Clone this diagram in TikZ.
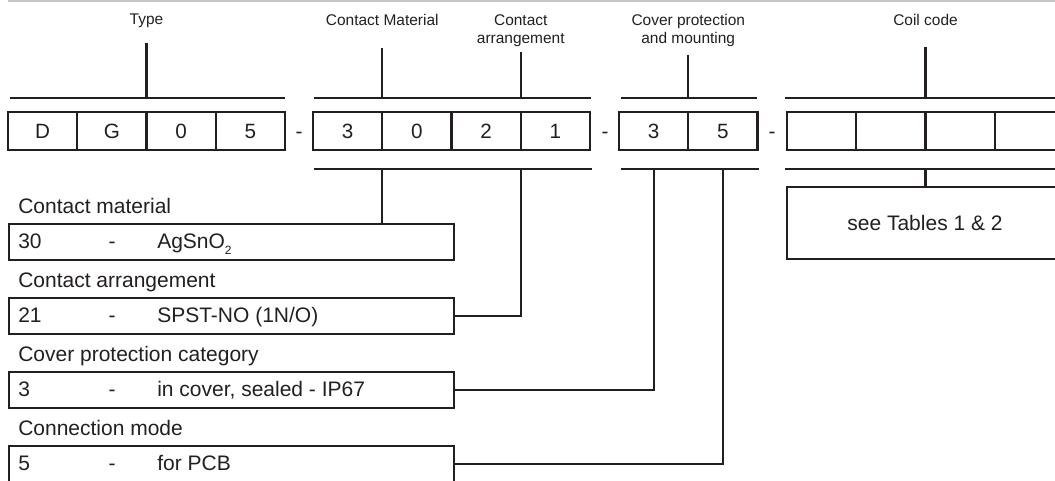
\documentclass[tikz,border=0pt]{standalone}
\usepackage{fontspec}
\setmainfont{Liberation Sans}
\definecolor{ink}{HTML}{231F20}
\definecolor{rulegray}{HTML}{C8C8C8}
\begin{document}
\begin{tikzpicture}[x=0.75pt,y=-0.75pt,
  ln/.style={draw=ink,line width=1.6pt},
  cell/.style={draw=ink,line width=1.6pt,minimum width=51.94pt,minimum height=28.5pt,inner sep=0pt,text=ink,font=\fontsize{15.5}{18}\selectfont},
  sep/.style={text=ink,inner sep=0pt,anchor=base,font=\fontsize{15.5}{18}\selectfont},
  toplab/.style={text=ink,inner sep=0pt,align=center,anchor=north,font=\fontsize{11.6}{13.5}\selectfont},
  desclab/.style={text=ink,inner sep=0pt,anchor=base west,font=\fontsize{15.75}{18}\selectfont},
  rowtxt/.style={text=ink,inner sep=0pt,anchor=base west,font=\fontsize{15.75}{18}\selectfont},
  rowdash/.style={text=ink,inner sep=0pt,anchor=base,font=\fontsize{15.75}{18}\selectfont},
  descbox/.style={draw=ink,line width=1.6pt,minimum width=333.75pt,minimum height=27pt,inner sep=0pt,anchor=north west},
  tabbox/.style={draw=ink,line width=1.6pt,minimum width=207pt,minimum height=54pt,inner sep=0pt,text=ink,font=\fontsize{15.75}{18}\selectfont}]
\useasboundingbox (0,0) rectangle (1055,481);

% top gray rule
\coordinate (gw) at (8,1.2);
\coordinate (ge) at (1056,1.2);
\draw[draw=rulegray,line width=1.9pt] (gw) -- (ge);

% code cells
\node[cell] (d1) at (42.6,131) {D};
\node[cell] (d2) at (111.9,131) {G};
\node[cell] (d3) at (181.1,131) {0};
\node[cell] (d4) at (250.4,131) {5};
\node[sep] (s1) at (299,138.5) {-};
\node[cell] (m1) at (347.6,131) {3};
\node[cell] (m2) at (416.9,131) {0};
\node[cell] (m3) at (486.1,131) {2};
\node[cell] (m4) at (555.4,131) {1};
\node[sep] (s2) at (605,138.5) {-};
\node[cell] (p1) at (653.6,131) {3};
\node[cell] (p2) at (722.9,131) {5};
\node[sep] (s3) at (772,138.5) {-};
\node[cell] (k1) at (821.6,131) {};
\node[cell] (k2) at (890.9,131) {};
\node[cell] (k3) at (960.1,131) {};
\node[cell] (k4) at (1029.4,131) {};

% top labels
\node[toplab] (lType) at (146.5,14) {Type};
\node[toplab] (lCM) at (382.25,14) {Contact Material};
\node[toplab] (lCA) at (520.75,14) {Contact\\arrangement};
\node[toplab] (lCP) at (688.25,14) {Cover protection\\and mounting};
\node[toplab] (lCC) at (925.5,14) {Coil code};

% top brackets
\coordinate (tb1w) at (10,98);  \coordinate (tb1e) at (285,98);
\coordinate (tb2w) at (314,98); \coordinate (tb2e) at (591,98);
\coordinate (tb3w) at (621,98); \coordinate (tb3e) at (757,98);
\coordinate (tb4w) at (785,98); \coordinate (tb4e) at (1060,98);
\draw[ln] (tb1w) -- (tb1e);
\draw[ln] (tb2w) -- (tb2e);
\draw[ln] (tb3w) -- (tb3e);
\draw[ln] (tb4w) -- (tb4e);
\coordinate (vT) at (146.5,43);
\coordinate (vCM) at (382.25,48);
\coordinate (vCA) at (520.75,52);
\coordinate (vCP) at (688.25,55);
\coordinate (vCC) at (925.5,47);
\draw[ln] (vT) -- (vT |- tb1w);
\draw[ln] (vCM) -- (vCM |- tb2w);
\draw[ln] (vCA) -- (vCA |- tb2w);
\draw[ln] (vCP) -- (vCP |- tb3w);
\draw[ln] (vCC) -- (vCC |- tb4w);

% bottom brackets
\coordinate (bb2w) at (314,169); \coordinate (bb2e) at (592,169);
\coordinate (bb3w) at (621,169); \coordinate (bb3e) at (759,169);
\coordinate (bb4w) at (785,169); \coordinate (bb4e) at (1060,169);
\draw[ln] (bb2w) -- (bb2e);
\draw[ln] (bb3w) -- (bb3e);
\draw[ln] (bb4w) -- (bb4e);

% description blocks
\node[desclab] (hCM) at (18,213) {Contact material};
\node[descbox] (b30) at (8,223) {};
\node[rowtxt] (r30a) at (18,248.5) {30};
\node[rowdash] (r30b) at (112,248.5) {-};
\node[rowtxt] (r30c) at (157,248.5) {AgSnO\raisebox{-0.55ex}{\fontsize{9}{9}\selectfont 2}};

\node[desclab] (hCA) at (18,287) {Contact arrangement};
\node[descbox] (b21) at (8,297) {};
\node[rowtxt] (r21a) at (18,322.5) {21};
\node[rowdash] (r21b) at (112,322.5) {-};
\node[rowtxt] (r21c) at (157,322.5) {SPST-NO (1N/O)};

\node[desclab] (hCP) at (18,361) {Cover protection category};
\node[descbox] (b3) at (8,371) {};
\node[rowtxt] (r3a) at (18,396.5) {3};
\node[rowdash] (r3b) at (112,396.5) {-};
\node[rowtxt] (r3c) at (157,396.5) {in cover, sealed - IP67};

\node[desclab] (hCN) at (18,435) {Connection mode};
\node[descbox] (b5) at (8,445) {};
\node[rowtxt] (r5a) at (18,470.5) {5};
\node[rowdash] (r5b) at (112,470.5) {-};
\node[rowtxt] (r5c) at (157,470.5) {for PCB};

\node[tabbox] (tables) at (925,223) {see Tables 1 \& 2};

% connectors
\coordinate (cm) at (382.25,169);
\coordinate (ca) at (520.75,169);
\coordinate (cp) at (653.6,169);
\coordinate (cn) at (722.9,169);
\coordinate (cc) at (925.5,169);
\draw[ln] (cm) -- (cm |- b30.north);
\draw[ln] (ca) |- (b21.east);
\draw[ln] (cp) |- (b3.east);
\draw[ln] (cn) |- (b5.east);
\draw[ln] (cc) -- (cc |- tables.north);
\end{tikzpicture}
\end{document}
